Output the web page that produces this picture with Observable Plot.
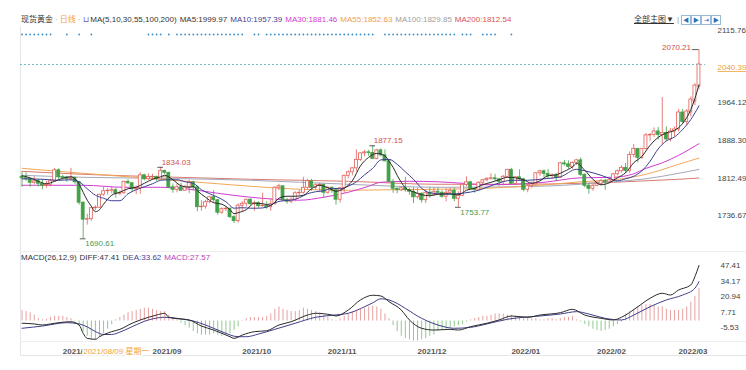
<!DOCTYPE html>
<html><head><meta charset="utf-8">
<script src="https://cdn.jsdelivr.net/npm/d3@7"></script>
<script src="https://cdn.jsdelivr.net/npm/@observablehq/plot@0.6"></script>
<style>
body{margin:0;background:#fff;font-family:"Liberation Sans",Arial,"Noto Sans CJK SC",sans-serif;}
#wrap{position:relative;width:746px;height:370px;overflow:hidden;background:#fff}
#wrap svg{position:absolute;left:0;overflow:visible}
.t{position:absolute;font-size:8px;white-space:nowrap;color:#333;line-height:10px}
.t span{margin-right:3px}
.ln{position:absolute;background:#e6e6e6}
.btn{display:inline-block;width:8px;height:8px;border:1px solid #9bb7d9;color:#2f6db5;font-size:6px;line-height:8px;text-align:center;margin-right:0 !important;vertical-align:middle}
</style></head><body><div id="wrap">
<div class="ln" style="left:20px;top:26px;width:1px;height:329px"></div>
<div class="ln" style="left:20px;top:251px;width:726px;height:1px;background:#eeeeee"></div>
<div class="ln" style="left:20px;top:341px;width:726px;height:1px;background:#eeeeee"></div>
<div class="ln" style="left:20px;top:355px;width:726px;height:1px"></div>
<div class="t" style="left:21px;top:15px">
<span style="margin-right:2px">现货黄金</span><span style="color:#999;margin-right:2px">·</span><span style="color:#f0a040;margin-right:2px">日线</span><span style="color:#999;margin-right:3px">·</span><span style="color:#6b55b0;margin-right:1px">⊔</span><span>MA(5,10,30,55,100,200)</span><span>MA5:1999.97</span><span style="color:#3f3f95">MA10:1957.39</span><span style="color:#d23cd2">MA30:1881.46</span><span style="color:#f0a050">MA55:1852.63</span><span style="color:#a0a0a0">MA100:1829.85</span><span style="color:#d9534f">MA200:1812.54</span>
</div>
<div class="t" style="left:634px;top:15px"><span style="text-decoration:underline;margin-right:3px">全部主图▼</span><span style="color:#999;margin-right:2px">|</span><span class="btn">◀</span><span class="btn">▶</span><span class="btn">⇥</span><span class="btn">▶</span></div>
<div class="t" style="left:21px;top:253px"><span>MACD(26,12,9)</span><span>DIFF:47.41</span><span style="color:#3f3f95">DEA:33.62</span><span style="color:#c040c0">MACD:27.57</span></div>
</div>
<script>
// ---- daily candles (trading days 2021-07-19 .. 2022-03-08) ----
const opens=[1815,1812,1810,1803,1806,1801,1797,1799,1806,1828,1814,1813,1810,1812,1804,1763,1729,1730,1752,1753,1779,1786,1787,1788,1781,1782,1805,1802,1790,1792,1818,1810,1814,1815,1810,1827,1823,1794,1789,1794,1787,1794,1804,1794,1754,1755,1764,1774,1768,1743,1750,1751,1734,1726,1757,1761,1769,1760,1762,1756,1757,1754,1760,1793,1796,1768,1765,1769,1782,1783,1793,1806,1793,1798,1799,1783,1793,1788,1769,1792,1817,1824,1832,1849,1862,1864,1863,1851,1868,1858,1846,1805,1791,1788,1792,1788,1785,1774,1781,1768,1783,1779,1785,1783,1775,1783,1787,1771,1777,1799,1804,1791,1789,1803,1808,1811,1812,1810,1805,1815,1829,1801,1814,1810,1789,1797,1800,1822,1826,1821,1817,1818,1813,1842,1840,1835,1843,1848,1819,1797,1791,1797,1801,1807,1804,1808,1820,1826,1833,1827,1859,1871,1853,1871,1898,1899,1906,1899,1903,1890,1906,1910,1944,1925,1944,1966,1996];
const highs=[1825,1823,1812,1815,1810,1810,1806,1810,1832,1831,1818,1816,1832,1815,1806,1765,1740,1754,1757,1780,1795,1791,1795,1792,1787,1806,1809,1803,1796,1823,1820,1821,1820,1816,1834.03,1828,1824,1801,1800,1802,1798,1808,1806,1796,1767,1768,1776,1787,1769,1753,1755,1752,1737,1761,1765,1770,1771,1766,1765,1782,1765,1770,1795,1800,1797,1772,1773,1785,1788,1814,1810,1810,1801,1802,1800,1796,1795,1792,1794,1818,1827,1833,1869,1863,1868,1868,1877.15,1870,1871,1869,1849,1810,1793,1794,1814,1792,1793,1792,1783,1789,1793,1793,1793,1787,1791,1792,1792,1785,1800,1815,1806,1793,1805,1810,1813,1821,1820,1811,1818,1830,1832,1815,1829,1812,1800,1805,1823,1828,1829,1830,1821,1822,1844,1848,1847,1845,1850,1853,1821,1801,1800,1807,1810,1810,1814,1822,1829,1837,1842,1865,1880,1872,1872,1902,1902,1913,1914,1974,1915,1912,1915,1950,1950,1950,1975,2002,2070.21];
const lows=[1794,1806,1794,1799,1795,1789,1792,1795,1804,1808,1808,1804,1806,1800,1758,1690.61,1718,1726,1747,1752,1776,1778,1781,1772,1777,1780,1799,1784,1779,1780,1807,1808,1808,1806,1809,1819,1791,1782,1783,1786,1786,1781,1787,1745,1746,1750,1761,1763,1738,1740,1745,1731,1721,1722,1745,1754,1757,1746,1752,1754,1750,1746,1758,1787,1765,1760,1761,1765,1776,1780,1789,1786,1788,1783,1772,1780,1782,1758,1762,1782,1811,1817,1825,1846,1855,1856,1850,1849,1855,1845,1803,1782,1781,1785,1784,1778,1761,1770,1762,1761,1772,1777,1780,1772,1765,1780,1765,1753.77,1775,1795,1788,1782,1787,1798,1805,1808,1806,1796,1797,1813,1799,1797,1807,1785,1783,1792,1799,1816,1812,1812,1810,1805,1812,1836,1830,1830,1838,1816,1793,1780,1786,1795,1797,1788,1801,1805,1817,1823,1822,1822,1853,1843,1850,1869,1886,1894,1889,1879,1886,1885,1895,1905,1920,1918,1935,1958,1990];
const closes=[1812,1810,1803,1806,1801,1797,1799,1806,1828,1814,1813,1810,1812,1804,1763,1729,1730,1752,1753,1779,1786,1787,1788,1781,1782,1805,1802,1790,1792,1818,1810,1814,1815,1810,1827,1823,1794,1789,1794,1787,1794,1804,1794,1754,1755,1764,1774,1768,1743,1750,1751,1734,1726,1757,1761,1769,1760,1762,1756,1757,1754,1760,1793,1796,1768,1765,1769,1782,1783,1793,1806,1793,1798,1799,1783,1793,1788,1769,1792,1817,1824,1832,1849,1862,1864,1863,1851,1868,1858,1846,1805,1791,1788,1792,1788,1785,1774,1781,1768,1783,1779,1785,1783,1775,1783,1787,1771,1777,1799,1804,1791,1789,1803,1808,1811,1812,1810,1805,1815,1829,1801,1814,1810,1789,1797,1800,1822,1826,1821,1817,1818,1813,1842,1840,1835,1843,1848,1819,1797,1791,1797,1801,1807,1804,1808,1820,1826,1833,1827,1859,1871,1853,1871,1898,1899,1906,1899,1903,1890,1906,1910,1944,1925,1946,1970,1998,2040.39];

// ---- moving averages: [dayIndex, value] ----
const ma5=[[0,1817],[2,1813],[4,1806],[6,1801],[8,1806],[10,1812],[12,1815],[13,1811],[14,1800],[15,1784],[16,1768],[17,1756],[18,1745],[19,1749],[20,1760],[22,1778],[24,1784],[26,1791],[28,1794],[30,1802],[32,1810],[34,1815],[35,1818],[37,1809],[39,1797],[41,1794],[42,1795],[43,1787],[44,1780],[45,1774],[47,1763],[49,1760],[51,1749],[52,1741],[53,1743],[55,1749],[57,1762],[59,1761],[61,1758],[62,1764],[63,1772],[65,1776],[67,1776],[69,1778],[71,1791],[73,1798],[75,1793],[77,1786],[79,1792],[81,1807],[83,1837],[85,1854],[87,1862],[89,1857],[90,1846],[91,1834],[92,1818],[93,1804],[94,1793],[96,1785],[98,1779],[100,1777],[102,1780],[104,1781],[106,1780],[107,1779],[109,1788],[111,1792],[113,1799],[115,1804],[117,1809],[119,1814],[121,1813],[123,1809],[125,1802],[127,1807],[129,1817],[131,1819],[133,1826],[135,1835],[136,1842],[138,1828],[140,1810],[142,1799],[144,1803],[146,1813],[148,1823],[150,1843],[152,1856],[154,1878],[156,1894],[158,1903],[160,1908],[162,1922],[164,1950],[165,1972],[166,1999.97]];
const ma10=[[0,1811],[5,1810],[9,1808],[12,1809],[14,1805],[16,1791],[18,1778],[20,1772],[22,1767],[24,1767],[26,1781],[28,1789],[30,1795],[32,1801],[34,1808],[36,1809],[38,1809],[40,1805],[42,1802],[44,1789],[46,1781],[48,1774],[50,1765],[52,1752],[54,1753],[56,1752],[58,1752],[60,1754],[62,1763],[64,1767],[66,1768],[68,1773],[70,1781],[72,1785],[74,1787],[76,1792],[78,1791],[80,1796],[82,1805],[84,1819],[86,1832],[88,1849],[90,1850],[92,1840],[94,1825],[96,1810],[98,1792],[100,1783],[104,1780],[108,1782],[112,1788],[116,1800],[120,1808],[124,1808],[128,1811],[132,1815],[136,1830],[138,1827],[140,1823],[142,1818],[144,1812],[146,1807],[148,1811],[150,1816],[152,1827],[154,1846],[156,1871],[158,1887],[160,1895],[162,1910],[164,1930],[166,1957.39]];
const ma30=[[0,1798],[15,1798],[25,1794],[34,1794],[40,1791],[48,1782],[56,1774],[62,1770],[68,1768],[74,1774],[80,1784],[85,1796],[88,1804],[95,1806],[102,1805],[108,1802],[114,1799],[120,1800],[128,1804],[137,1813],[145,1814],[150,1821],[153,1832],[157,1843],[161,1858],[166,1881.46]];
const ma55=[[0,1832],[15,1822],[34,1810],[45,1803],[56,1796],[68,1790],[80,1788],[90,1789],[102,1790],[114,1792],[121,1795],[130,1800],[137,1805],[145,1809],[153,1820],[161,1840],[166,1852.63]];
const ma100=[[0,1818],[15,1814],[34,1812],[56,1808],[80,1800],[102,1794],[121,1795],[137,1800],[145,1805],[153,1811],[161,1822],[166,1829.85]];
const ma200=[[0,1826],[15,1820],[34,1815],[56,1810],[80,1806],[102,1800],[121,1800],[137,1802],[145,1804],[153,1807],[161,1810],[166,1812.54]];

// ---- MACD panel ----
const diffLine=[[0,-1.9],[3,-2.5],[5,-3.4],[7,-2.5],[9,-1.4],[12,-0.6],[14,-3.4],[15,-10.5],[16,-14.8],[18,-15.6],[19,-13.4],[22,-9.1],[24,-7.1],[27,-1.9],[31,3.2],[33,5.1],[35,6.6],[36,3.2],[39,1.7],[41,0.9],[44,-4.3],[47,-7.7],[51,-13.4],[52,-14.8],[54,-12],[57,-9.1],[60,-8.3],[63,-3.4],[66,-0.6],[70,5.1],[72,6.6],[76,5.1],[77,4.3],[80,9.4],[83,18],[86,22],[88,21.4],[90,16.5],[93,9.4],[95,0.9],[98,-6.2],[101,-7.7],[105,-7.1],[107,-7.7],[110,-4.8],[114,-1.9],[117,0.9],[120,4.3],[124,3.2],[127,5.1],[132,7.1],[135,10],[138,5.1],[142,2.3],[145,0.9],[147,3.2],[151,12.2],[154,19.4],[157,23.7],[159,22.2],[161,26.5],[164,30.8],[165,37.9],[166,47.41]];
const deaLine=[[0,-6.2],[5,-4.3],[11,-1.4],[14,-2.5],[16,-5],[18,-9],[20,-11.5],[22,-11.5],[24,-9.5],[27,-4.8],[31,0.9],[35,3.2],[38,2.3],[42,0],[45,-3.4],[49,-9.1],[53,-13.4],[55,-13.4],[58,-11.1],[62,-7.1],[67,-1.9],[72,3.2],[76,4.9],[80,6.6],[84,12.2],[86,15.5],[88,19],[90,18],[92,15],[94,10.8],[98,2.3],[102,-3.4],[106,-6.2],[110,-5.4],[114,-2.5],[119,1.5],[123,3.2],[127,4.3],[132,6],[136,8],[139,6],[143,2.3],[147,0.9],[150,5.1],[154,12.2],[158,18],[162,22.2],[165,28],[166,33.62]];
const macdHist=[9,8,7,5,2,1,1.5,3,4,4,4,3,2,0.5,-3,-9,-13,-16,-16,-14,-11,-7,-3,1,3,5,7,8,9,10,11,11,10,9,8,8,5,3,1,-2,-4,-6,-9,-11,-12,-12,-12,-11,-12,-13,-12,-11,-8,-5,0.5,2,3,3,3,3,4,6,10,12,10,9,8,8,9,11,10,9,8,7,5,3,1,0.5,2,4,6,8,9,10,11,12,13,12,10,6,2,-4,-9,-13,-15,-16,-17,-17,-16,-15,-13,-12,-9,-8,-7,-6,-5,-4,-3,-1,1,2,3,4,4,5,6,6,6,5,5,4,4,3,3,2,2,1,1,2,2,1,2,3,3,4,1,-1,-3,-5,-7,-8,-9,-8,-7,-5,-3,-1,6,8,10,12,13,14,14,13,12,12,10,9,9,9,10,12,16,21,27.57];

// ---- ticks, labels, markers ----
const priceTicks=[1736.67,1812.49,1888.30,1964.12];
const priceTop=2115.76;
const lastPrice=2040.39;
const macdTicks=[47.41,34.17,20.94,7.71,-5.53];
const monthLabels=["2021/08","2021/09","2021/10","2021/11","2021/12","2022/01","2022/02","2022/03"];
const monthFirstDay=["2021-08-02","2021-09-01","2021-10-01","2021-11-01","2021-12-01","2022-01-03","2022-02-01","2022-03-01"];
const crossDate="2021-08-09", crossText="2021/08/09 星期一";
const highLabels=[{d:"2021-09-03",v:1834.03},{d:"2021-11-16",v:1877.15}];
const lowLabels=[{d:"2021-08-09",v:1690.61},{d:"2021-12-15",v:1753.77}];
const topLabel={d:"2022-03-08",v:2070.21};
const eventDays=["2021-07-19","2021-07-20","2021-07-21","2021-07-22","2021-07-23","2021-07-26","2021-07-27","2021-07-28","2021-08-03","2021-08-06","2021-08-11","2021-08-31","2021-09-01","2021-09-02","2021-09-03","2021-09-07","2021-09-09","2021-09-10","2021-09-13","2021-09-14","2021-09-15","2021-09-16","2021-09-17","2021-09-20","2021-09-21","2021-09-22","2021-09-23","2021-09-24","2021-09-27","2021-09-28","2021-09-29","2021-09-30","2021-10-01","2021-10-06","2021-10-07","2021-10-11","2021-10-12","2021-10-13","2021-10-14","2021-10-15","2021-10-18","2021-10-19","2021-10-20","2021-10-21","2021-10-22","2021-10-25","2021-10-26","2021-10-27","2021-10-28","2021-10-29","2021-11-01","2021-11-02","2021-11-03","2021-11-04","2021-11-05","2021-11-08","2021-11-09","2021-11-10","2021-11-11","2021-11-12","2021-11-15","2021-11-16","2021-11-19","2021-11-22","2021-11-23","2021-11-24","2021-11-25","2021-11-26","2021-11-29","2021-11-30","2021-12-01","2021-12-02","2021-12-03","2021-12-06","2021-12-07","2021-12-08","2021-12-09","2021-12-10","2021-12-13","2021-12-14","2021-12-16","2021-12-17","2021-12-20","2021-12-23","2021-12-24","2021-12-27","2021-12-28","2022-01-03"];

const RED="#e0605a", GREEN="#43a047";
// trading-day index for a date (weekdays starting 2021-07-19)
const days=d3.utcDay.range(new Date("2021-07-19"),new Date("2022-03-09")).filter(d=>d.getUTCDay()>0&&d.getUTCDay()<6).map(d=>d3.utcFormat("%Y-%m-%d")(d));
const idx=s=>days.indexOf(s);

const candles=closes.map((c,i)=>({i,o:opens[i],h:highs[i],l:lows[i],c,up:c>=opens[i]}));
const pts=a=>a.map(([i,v])=>({i,v}));
const font={fontFamily:"'Liberation Sans',Arial,'Noto Sans CJK SC',sans-serif",fontSize:"8px",background:"transparent",overflow:"visible"};
const X={domain:[-0.37,167.6]};

const main=Plot.plot({
  width:746,height:252,marginLeft:20,marginRight:41,marginTop:0,marginBottom:0,
  style:font,
  x:{...X,axis:null},
  y:{domain:[1690.61,2115.76],range:[238.3,26.4],axis:null},
  marks:[
    Plot.dot(eventDays.map(idx),{x:d=>d,frameAnchor:"top",dy:34,r:0.9,fill:"#3d8fc8"}),
    Plot.ruleY([lastPrice],{y:d=>d,stroke:"#4aa8b2",strokeDasharray:"2,2",strokeWidth:0.8}),
    Plot.line(pts(ma200),{x:"i",y:"v",stroke:"#d97a70",strokeWidth:1,curve:"monotone-x"}),
    Plot.line(pts(ma100),{x:"i",y:"v",stroke:"#a3a9bb",strokeWidth:1,curve:"monotone-x"}),
    Plot.line(pts(ma55),{x:"i",y:"v",stroke:"#f0a858",strokeWidth:1,curve:"monotone-x"}),
    Plot.line(pts(ma30),{x:"i",y:"v",stroke:"#d23cd2",strokeWidth:1,curve:"monotone-x"}),
    Plot.ruleX(candles,{x:"i",y1:"l",y2:"h",stroke:d=>d.up?RED:GREEN,strokeWidth:0.8}),
    Plot.rect(candles,{x1:d=>d.i-0.36,x2:d=>d.i+0.36,y1:"o",y2:"c",fill:d=>d.up?"#fff":GREEN,stroke:d=>d.up?RED:GREEN,strokeWidth:0.8}),
    Plot.line(pts(ma10),{x:"i",y:"v",stroke:"#3f3f95",strokeWidth:1,curve:"monotone-x"}),
    Plot.line(pts(ma5),{x:"i",y:"v",stroke:"#2a2a2a",strokeWidth:1,curve:"monotone-x"}),
    // high / low annotations
    Plot.ruleY(highLabels.concat(lowLabels),{y:"v",x1:d=>idx(d.d)-0.7,x2:d=>idx(d.d)+0.7,stroke:"#333",strokeWidth:0.8}),
    Plot.text(highLabels,{x:d=>idx(d.d),y:"v",text:d=>d.v.toFixed(2),dx:1,dy:-5,textAnchor:"start",fill:"#d0504a"}),
    Plot.text(lowLabels,{x:d=>idx(d.d),y:"v",text:d=>d.v.toFixed(2),dx:2,dy:5,textAnchor:"start",fill:"#4a9a4a"}),
    Plot.ruleY([topLabel],{y:"v",x1:d=>idx(d.d)-1.6,x2:d=>idx(d.d),stroke:"#333",strokeWidth:0.8}),
    Plot.text([topLabel],{x:d=>idx(d.d),y:"v",text:d=>d.v.toFixed(2),dx:-8,dy:-2,textAnchor:"end",fill:"#d0504a"}),
    // right axis labels
    Plot.text(priceTicks,{y:d=>d,text:d=>d.toFixed(2),frameAnchor:"right",dx:12,textAnchor:"start",fill:"#444"}),
    Plot.text([priceTop],{y:d=>d,text:d=>d.toFixed(2),frameAnchor:"right",dx:12,dy:4,textAnchor:"start",fill:"#444"}),
    Plot.text([lastPrice],{y:d=>d,text:d=>d.toFixed(2),frameAnchor:"right",dx:12,dy:3,textAnchor:"start",fill:"#f0a040"})
  ]
});
main.style.top="0px";
d3.select(main).selectAll("text").filter(function(){return this.textContent==="2040.39"}).style("text-decoration","underline");
document.getElementById("wrap").appendChild(main);

const macd=Plot.plot({
  width:746,height:118,marginLeft:20,marginRight:41,marginTop:0,marginBottom:0,
  style:font,
  x:{...X,axis:null},
  y:{domain:[-5.53,47.41],range:[75,13],axis:null},
  marks:[
    Plot.ruleX(macdHist.map((v,i)=>({i,v})),{x:"i",y1:0,y2:"v",stroke:d=>d.v>0?"#e6a0a0":"#8fc98f",strokeWidth:1}),
    Plot.line(pts(deaLine),{x:"i",y:"v",stroke:"#3f3f8a",strokeWidth:1,curve:"monotone-x"}),
    Plot.line(pts(diffLine),{x:"i",y:"v",stroke:"#2a2a2a",strokeWidth:1,curve:"monotone-x"}),
    Plot.text(macdTicks,{y:d=>d,text:d=>d.toFixed(2),frameAnchor:"right",dx:15,textAnchor:"start",fill:"#444"}),
    Plot.text(monthLabels.map((t,k)=>({t,i:idx(monthFirstDay[k])})),{x:"i",text:"t",frameAnchor:"top",dy:96,textAnchor:"start",fill:"#555",fontWeight:"bold"}),
    Plot.text([{i:idx(crossDate),t:crossText}],{x:"i",text:"t",frameAnchor:"top",dy:96,textAnchor:"start",fill:"#f2a33a",stroke:"#fff",strokeWidth:3,paintOrder:"stroke"})
  ]
});
macd.style.top="252px";
document.getElementById("wrap").appendChild(macd);
</script>
</body></html>
